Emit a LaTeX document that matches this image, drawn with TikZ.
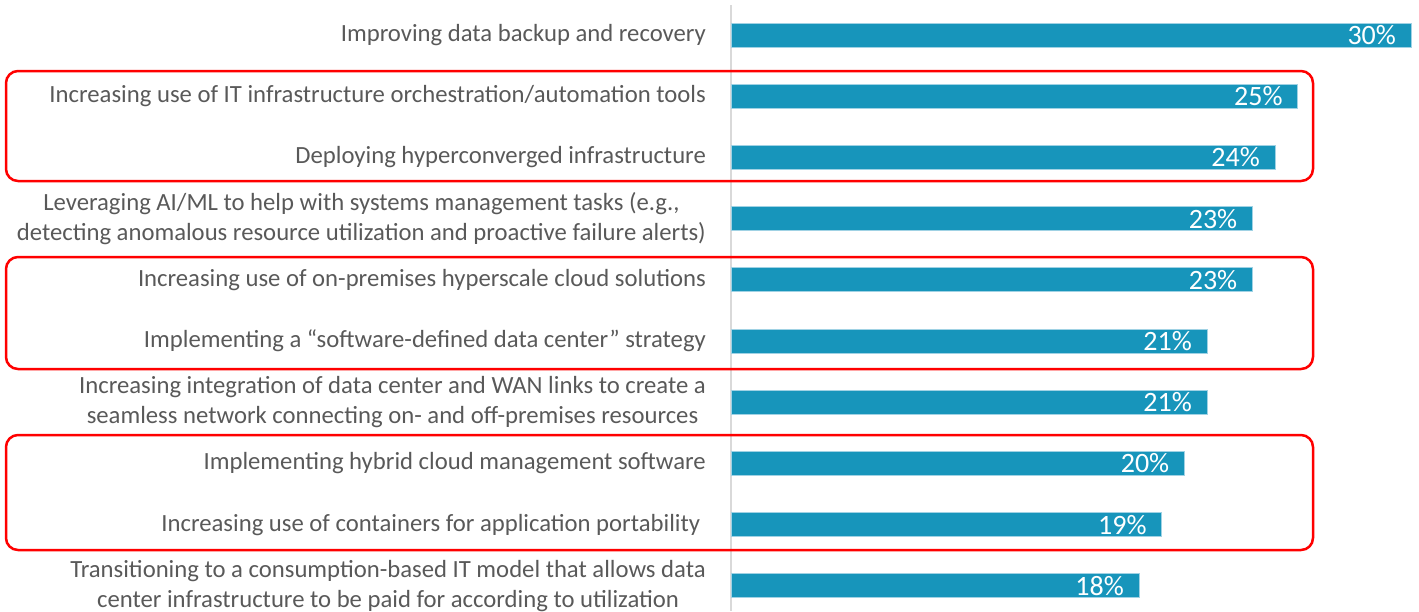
\documentclass[tikz,border=0pt]{standalone}
\usepackage{fontspec}
\setmainfont{Carlito}
\usepackage{tikz}
\definecolor{barblue}{RGB}{23,149,187}
\definecolor{baredge}{RGB}{160,210,228}
\definecolor{axisgray}{RGB}{217,217,217}
\definecolor{labelgray}{RGB}{89,89,89}
\definecolor{boxred}{RGB}{255,0,0}
\tikzset{
  barlabel/.style={anchor=east,align=center,text=labelgray,inner sep=0pt,font=\fontsize{24.7}{30}\selectfont},
  barvalue/.style={anchor=east,text=white,inner sep=0pt,font=\fontsize{28}{30}\selectfont},
  groupbox/.style={draw=boxred,line width=2.5,rounded corners=12}
}

\begin{document}
\begin{tikzpicture}[x=1pt,y=-1pt]
\useasboundingbox (0,0) rectangle (1419,611);
\draw[axisgray,line width=1.5] (731,5) -- (731,611);
% bars and labels
\foreach \val/\txt [count=\i] in {
  30/{Improving data backup and recovery},
  25/{Increasing use of IT infrastructure orchestration/automation tools},
  24/{Deploying hyperconverged infrastructure},
  23/{Leveraging AI/ML to help with systems management tasks (e.g.,\\detecting anomalous resource utilization and proactive failure alerts)},
  23/{Increasing use of on-premises hyperscale cloud solutions},
  21/{Implementing a “software-defined data center” strategy},
  21/{Increasing integration of data center and WAN links to create a\\seamless network connecting on- and off-premises resources},
  20/{Implementing hybrid cloud management software},
  19/{Increasing use of containers for application portability },
  18/{Transitioning to a consumption-based IT model that allows data\\center infrastructure to be paid for according to utilization}}
{
  \pgfmathsetmacro{\yc}{35+61.2*(\i-1)}
  \pgfmathsetmacro{\xe}{731+22.67*\val}
  \fill[barblue,draw=baredge,line width=1] (731,\yc-12) rectangle (\xe,\yc+12);
  \node[barlabel] (lab\i) at (706,\yc) {\txt};
  \node[barvalue] (val\i) at (\xe-15,\yc) {\val\%};
}
% highlighted groups
\draw[groupbox] (6,71) rectangle (1313,181);
\draw[groupbox] (6,257) rectangle (1313,369);
\draw[groupbox] (6,435) rectangle (1313,550);
\end{tikzpicture}
\end{document}
